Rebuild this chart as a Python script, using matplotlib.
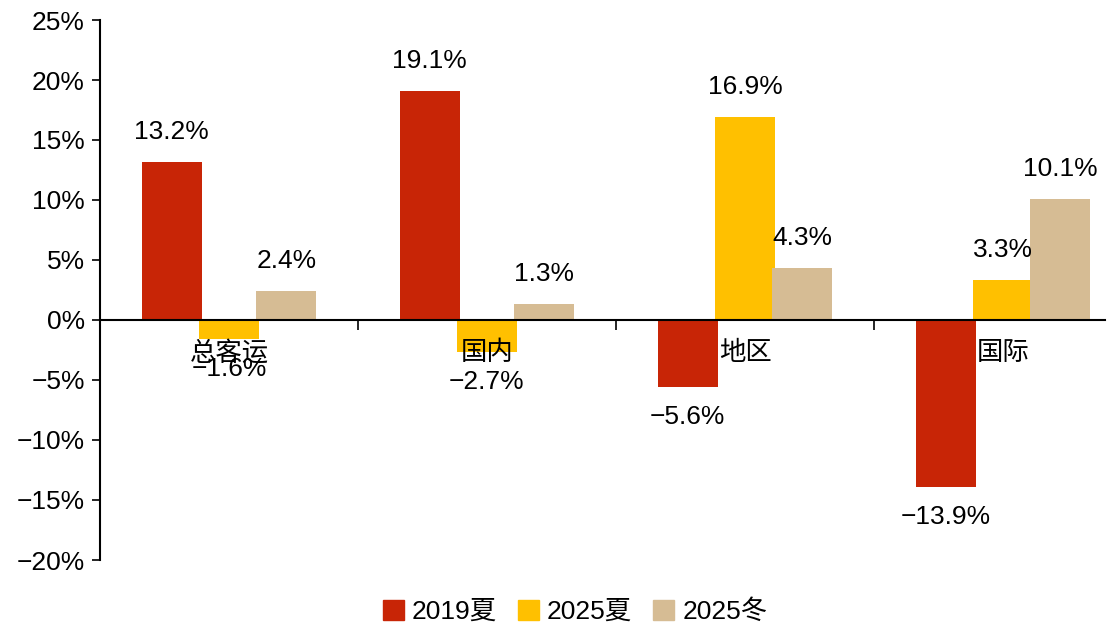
import numpy as np
import matplotlib.pyplot as plt
from matplotlib.patches import Patch

plt.rcParams['font.family'] = ['Liberation Sans', 'Noto Sans CJK SC']
plt.rcParams['axes.unicode_minus'] = True

# data
categories = ['总客运', '国内', '地区', '国际']
series = ['2019夏', '2025夏', '2025冬']
s2019_summer = [13.2, 19.1, -5.6, -13.9]
s2025_summer = [-1.6, -2.7, 16.9, 3.3]
s2025_winter = [2.4, 1.3, 4.3, 10.1]
colors = ['#C82506', '#FFC000', '#D6BC94']

fig = plt.figure(figsize=(11.19, 6.26), dpi=100)
ax = fig.add_axes([100 / 1119, 1 - 560 / 626, 1005 / 1119, 540 / 626])

x = np.arange(len(categories))
width = 0.232
offset = 0.222
fs = 19

for i, (vals, c) in enumerate(zip([s2019_summer, s2025_summer, s2025_winter], colors)):
    xs = x + (i - 1) * offset
    ax.bar(xs, vals, width=width, color=c, zorder=2)
    for xi, v in zip(xs, vals):
        txt = f'{v:.1f}%'.replace('-', '\u2212')
        if v >= 0:
            ax.annotate(txt, (xi, v), xytext=(0, 13), textcoords='offset points',
                        ha='center', va='bottom', fontsize=fs, zorder=3)
        else:
            ax.annotate(txt, (xi, v), xytext=(0, -13), textcoords='offset points',
                        ha='center', va='top', fontsize=fs, zorder=3)

ax.set_ylim(-20, 25)
ax.set_xlim(-0.5, 1005 / 258 - 0.5)
yt = np.arange(-20, 26, 5)
ax.set_yticks(yt)
ax.set_yticklabels([f'{v}%'.replace('-', '\u2212') for v in yt], fontsize=fs)
ax.tick_params(axis='y', length=6, width=1.2, pad=5)

# x axis at zero with boundary ticks and centred category names on top of bars
ax.set_axisbelow(False)
ax.spines['bottom'].set_position(('data', 0))
ax.spines['bottom'].set_linewidth(1.5)
ax.spines['left'].set_linewidth(1.5)
ax.spines['top'].set_visible(False)
ax.spines['right'].set_visible(False)
ax.set_xticks([-0.5, 0.5, 1.5, 2.5])
ax.set_xticklabels([])
ax.tick_params(axis='x', which='major', length=7, width=1.2)
ax.set_xticks(x, minor=True)
ax.set_xticklabels(categories, minor=True, fontsize=fs)
ax.tick_params(axis='x', which='minor', length=0, pad=15)

handles = [Patch(color=c) for c in colors]
fig.legend(handles, series, loc='lower center', bbox_to_anchor=(575 / 1119, -0.035),
           ncol=3, frameon=False, fontsize=fs, handlelength=0.8, handleheight=0.8,
           handletextpad=0.3, columnspacing=0.8)

fig.savefig('out.png', dpi=100)
